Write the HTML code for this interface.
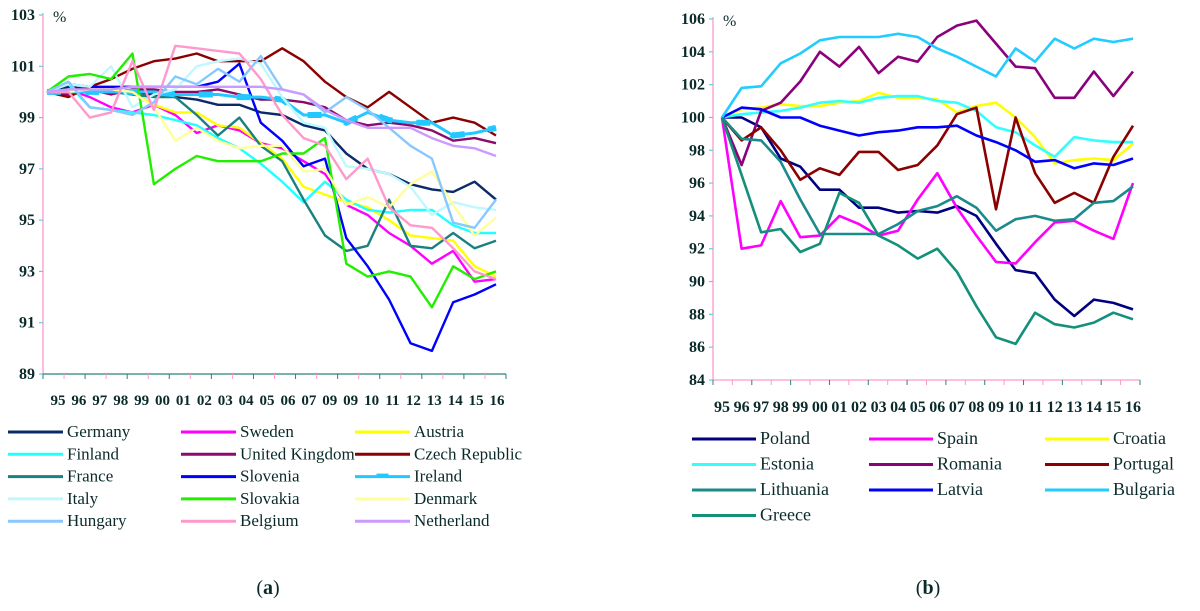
<!DOCTYPE html>
<html><head><meta charset="utf-8"><style>
body{margin:0;background:#fff;width:1200px;height:611px;overflow:hidden}
svg{position:absolute;left:0;top:0;font-family:"Liberation Serif","DejaVu Serif",serif}
svg text{font-family:"Liberation Serif","DejaVu Serif",serif !important;fill:#0a2a2a}
</style></head><body>
<svg id="chart" width="1200" height="611" viewBox="0 0 1200 611" xmlns="http://www.w3.org/2000/svg" font-family="Liberation Serif, serif"></svg>
<script>
const yearsA=["95","96","97","98","99","00","01","02","03","04","05","06","07","09","09","10","11","12","13","14","15","16"];
const yearsB=["95","96","97","98","99","00","01","02","03","04","05","06","07","08","09","10","11","12","13","14","15","16"];
const ticksA=[89,91,93,95,97,99,101,103];
const ticksB=[84,86,88,90,92,94,96,98,100,102,104,106];
const namesA=["Germany","Sweden","Austria","Finland","United Kingdom","Czech Republic","France","Slovenia","Ireland","Italy","Slovakia","Denmark","Hungary","Belgium","Netherland"];
const germany=[100,100.2,100.1,100,100,99.9,99.8,99.7,99.5,99.5,99.2,99.1,98.7,98.5,97.6,97.0,96.8,96.4,96.2,96.1,96.5,95.8];
const sweden=[100,100.1,99.8,99.4,99.2,99.5,99.1,98.4,98.7,98.5,98.0,97.8,97.3,96.8,95.6,95.2,94.5,94.0,93.3,93.8,92.6,92.7];
const austria=[100,100.1,100,100.2,100,99.5,99.2,99.2,98.7,98.6,98.0,97.4,96.3,96.0,95.7,95.5,95.0,94.4,94.3,94.2,93.2,92.8];
const finland=[100,100.3,99.4,99.3,99.2,99.1,98.9,98.7,98.2,97.8,97.2,96.5,95.7,96.5,95.8,95.4,95.3,95.4,95.4,94.8,94.5,94.5];
const uk=[100,99.9,100.1,99.9,100.1,100.1,100,100,100.1,99.9,99.7,99.7,99.6,99.4,98.9,98.7,98.8,98.7,98.5,98.1,98.2,98.0];
const czech=[100,99.8,100.2,100.5,100.9,101.2,101.3,101.5,101.2,101.2,101.2,101.7,101.2,100.4,99.8,99.4,100.0,99.4,98.8,99.0,98.8,98.3];
const france=[100,100.1,100,100,99.9,99.8,99.8,99.1,98.3,99.0,97.9,97.3,95.8,94.4,93.8,94.0,95.8,94.0,93.9,94.5,93.9,94.2];
const slovenia=[100,100.3,100.2,100.2,100.2,100.2,100.2,100.2,100.4,101.1,98.8,98.1,97.1,97.4,94.3,93.2,91.9,90.2,89.9,91.8,92.1,92.5];
const ireland=[100,100,100,100,100,100,99.9,99.9,99.9,99.8,99.8,99.7,99.1,99.1,98.8,99.2,98.9,98.8,98.8,98.3,98.4,98.6];
const italy=[100,100.3,100.2,101,99.4,99.9,100.1,101,101.2,101.3,101.1,99.8,98.8,98.6,97.1,97.0,96.8,96.3,95.2,95.7,95.5,95.4];
const slovakia=[100,100.6,100.7,100.5,101.5,96.4,97.0,97.5,97.3,97.3,97.3,97.6,97.6,98.2,93.3,92.8,93.0,92.8,91.6,93.2,92.7,93.0];
const denmark=[100,100,100.1,100.1,100,99.4,98.1,98.6,98.1,97.8,97.9,97.9,96.9,97.0,95.6,95.9,95.5,96.4,96.9,95.6,94.4,95.1];
const hungary=[100,100.4,99.4,99.3,99.1,99.6,100.6,100.3,100.9,100.4,101.4,100.1,99.9,99.2,99.8,99.3,98.6,97.9,97.4,94.9,94.7,95.8];
const belgium=[100,100,99.0,99.2,101.2,99.3,101.8,101.7,101.6,101.5,100.5,99.1,98.2,97.9,96.6,97.4,95.5,94.8,94.7,93.9,93.0,92.7];
const netherland=[100,100.1,100.1,100.1,100.2,100.2,100.2,100.2,100.2,100.2,100.2,100.1,99.9,99.3,98.9,98.6,98.6,98.6,98.2,97.9,97.8,97.5];
const namesB=["Poland","Spain","Croatia","Estonia","Romania","Portugal","Lithuania","Latvia","Bulgaria","Greece"];
const poland=[100,100,99.4,97.5,97.0,95.6,95.6,94.5,94.5,94.2,94.3,94.2,94.6,94.0,92.3,90.7,90.5,88.9,87.9,88.9,88.7,88.3];
const spain=[100,92.0,92.2,94.9,92.7,92.8,94.0,93.5,92.8,93.1,95.0,96.6,94.5,92.8,91.2,91.1,92.4,93.6,93.7,93.1,92.6,96.0];
const croatia=[100,100.5,100.6,100.8,100.7,100.7,100.9,101.0,101.5,101.2,101.2,101.1,100.3,100.7,100.9,100.0,98.8,97.2,97.4,97.5,97.4,98.4];
const estonia=[100,100.2,100.3,100.4,100.6,100.9,101.0,100.9,101.2,101.3,101.3,101.0,100.9,100.4,99.4,99.1,98.3,97.6,98.8,98.6,98.5,98.5];
const romania=[100,97.1,100.4,100.9,102.2,104.0,103.1,104.3,102.7,103.7,103.4,104.9,105.6,105.9,104.5,103.1,103.0,101.2,101.2,102.8,101.3,102.8];
const portugal=[100,98.6,99.4,98.0,96.2,96.9,96.5,97.9,97.9,96.8,97.1,98.3,100.2,100.6,94.4,100.0,96.6,94.8,95.4,94.8,97.6,99.5];
const lithuania=[100,98.7,98.6,97.3,95.0,92.9,92.9,92.9,92.9,93.5,94.3,94.6,95.2,94.5,93.1,93.8,94.0,93.7,93.8,94.8,94.9,95.8];
const latvia=[100,100.6,100.5,100,100,99.5,99.2,98.9,99.1,99.2,99.4,99.4,99.5,98.9,98.5,98.0,97.3,97.4,96.9,97.2,97.1,97.5];
const bulgaria=[100,101.8,101.9,103.3,103.9,104.7,104.9,104.9,104.9,105.1,104.9,104.2,103.7,103.1,102.5,104.2,103.4,104.8,104.2,104.8,104.6,104.8];
const greece=[100,96.5,93.0,93.2,91.8,92.3,95.4,94.8,92.8,92.2,91.4,92.0,90.6,88.5,86.6,86.2,88.1,87.4,87.2,87.5,88.1,87.7];

const NS="http://www.w3.org/2000/svg";
const svg=document.getElementById('chart');
const FF='"Liberation Serif", serif';
function mk(tag,attrs,parent,txt){const e=document.createElementNS(NS,tag);for(const k in attrs)e.setAttribute(k,attrs[k]);if(tag==='text'){e.setAttribute('font-family',FF);e.style.fontFamily=FF;}if(txt!==undefined)e.textContent=txt;(parent||svg).appendChild(e);return e;}

function chart(cfg){
  const g=mk('g',{});
  
  
  const yS=v=>cfg.y0+(cfg.vMax-v)/(cfg.vMax-cfg.vMin)*(cfg.y1-cfg.y0);
  const n=cfg.cats.length;
  const xS=i=>cfg.dx0+i*(cfg.dx1-cfg.dx0)/(n-1);
  const ya=mk('line',{x1:cfg.ax,y1:cfg.y0-2,x2:cfg.ax,y2:cfg.y1,stroke:'#ff99cc','stroke-width':1.3},g);
  
  cfg.ticks.forEach(t=>{
    const y=yS(t);
    mk('line',{x1:cfg.ax-4,y1:y,x2:cfg.ax,y2:y,stroke:'#66ccdd','stroke-width':1.2},g);
    const tl=mk('text',{x:cfg.ax-8,y:y+5,'text-anchor':'end','font-size':16,'font-weight':'bold'},g,t);
    
  });
  const pc=mk('text',{x:cfg.ax+10,y:cfg.y0+7,'font-size':16},g,'%');
  
  const xa=mk('line',{x1:cfg.ax,y1:cfg.y1,x2:cfg.axEnd,y2:cfg.y1,stroke:cfg.xColor,'stroke-width':1.3},g);
  
  const step=(cfg.axEnd-cfg.ax)/n;
  for(let i=0;i<=n;i++){mk('line',{x1:cfg.ax+i*step,y1:cfg.y1,x2:cfg.ax+i*step,y2:cfg.y1+5,stroke:i%2?'#ff99cc':'#2a8080','stroke-width':1},g);}
  cfg.cats.forEach((c,i)=>{
    const t=mk('text',{x:cfg.lx0+i*(cfg.lx1-cfg.lx0)/(n-1),y:cfg.ly,'text-anchor':'middle','font-size':cfg.lfs,'font-weight':'bold'},g,c);
    
  });
  cfg.series.forEach((s,si)=>{
    const pts=s.data.map((v,i)=>xS(i).toFixed(1)+','+yS(v).toFixed(1)).join(' ');
    const pl=mk('polyline',{points:pts,fill:'none',stroke:s.color,'stroke-width':s.w||2.6,'stroke-linejoin':'round'},g);
    
    
    if(s.dash){const d=mk('polyline',{points:pts,fill:'none',stroke:s.color,'stroke-width':6,'stroke-dasharray':'14 24'},g);}
    const col=si%3,row=Math.floor(si/3);
    const lx=cfg.leg.x[col],ly=cfg.leg.y0+row*cfg.leg.dy;
    const le=mk('g',{},g);
    
    
    mk('line',{x1:lx,y1:ly,x2:lx+cfg.leg.len,y2:ly,stroke:s.color,'stroke-width':3},le);
    if(s.dash)mk('rect',{x:lx+cfg.leg.len/2-6,y:ly-3,width:12,height:3,fill:s.color},le);
    mk('text',{x:lx+cfg.leg.len+4,y:ly+5,'font-size':cfg.leg.fs},le,s.label);
  });
}
const cA=["#0a2a6a","#ff00ff","#ffff00","#22ffff","#8b0a6a","#8b0000","#1a8080","#0000ff","#22c8ff","#bff8ff","#22ee00","#ffff99","#88c8ff","#ff99cc","#cc99ff"];
const dA=[germany,sweden,austria,finland,uk,czech,france,slovenia,ireland,italy,slovakia,denmark,hungary,belgium,netherland];
chart({name:'chart-a',cats:yearsA,ticks:ticksA,vMin:89,vMax:103,y0:15,y1:374,ax:43,axEnd:506,dx0:47,dx1:496,xColor:'#2a8080',
  lx0:58,lx1:497,ly:405,lfs:15,
  series:dA.map((d,i)=>({data:d,color:cA[i],label:namesA[i],dash:i===8,w:i===8?3:2.4})),
  leg:{x:[8,181,355],y0:432,dy:22.3,len:55,fs:17}});
const cB=["#000080","#ff00ff","#ffff00","#33ffff","#8b007b","#8b0000","#1a8a8a","#0000ff","#22ccff","#12907a"];
const dB=[poland,spain,croatia,estonia,romania,portugal,lithuania,latvia,bulgaria,greece];
chart({name:'chart-b',cats:yearsB,ticks:ticksB,vMin:84,vMax:106,y0:19,y1:380,ax:713,axEnd:1140,dx0:722,dx1:1133,xColor:'#ff99cc',
  lx0:722,lx1:1133,ly:412,lfs:16,
  series:dB.map((d,i)=>({data:d,color:cB[i],label:namesB[i],w:2.6})),
  leg:{x:[692,869,1045],y0:439,dy:25.5,len:64,fs:18}});
const a=mk('text',{x:268,y:594,'text-anchor':'middle','font-size':20},svg);a.innerHTML='(<tspan font-weight="bold">a</tspan>)';

const b=mk('text',{x:928,y:594,'text-anchor':'middle','font-size':20},svg);b.innerHTML='(<tspan font-weight="bold">b</tspan>)';

</script>
</body></html>
